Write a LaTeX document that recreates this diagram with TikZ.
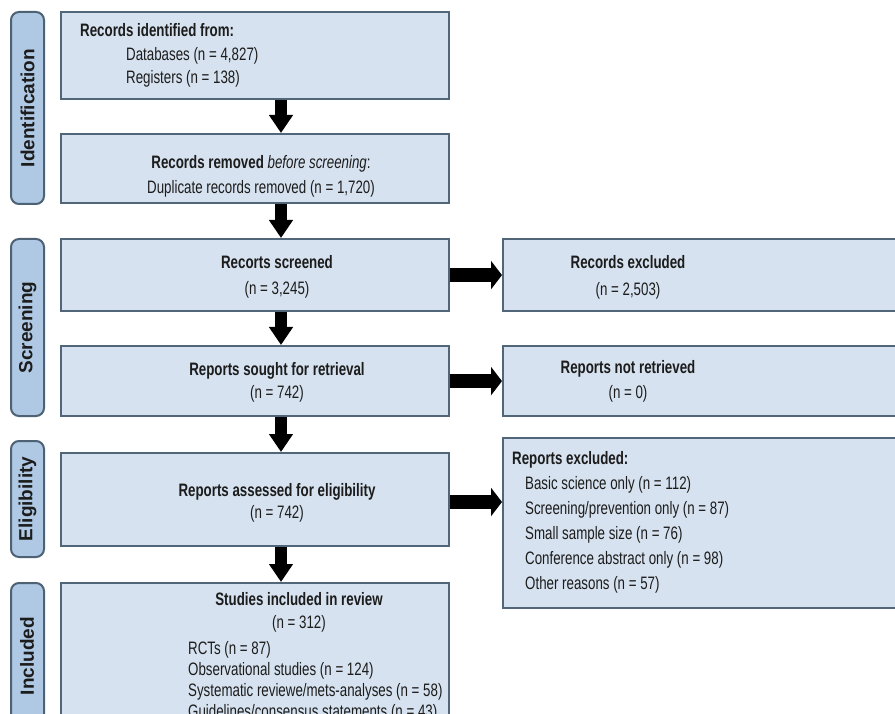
\documentclass[tikz,border=0pt]{standalone}
\usepackage{fontspec}
\setmainfont{Liberation Sans}[FakeStretch=0.74]
\newfontfamily\lblfont{Liberation Sans}
\usetikzlibrary{arrows.meta}
\definecolor{boxfill}{HTML}{D6E2EF}
\definecolor{boxline}{HTML}{52667A}
\definecolor{lblfill}{HTML}{AFC8E3}
\definecolor{lblline}{HTML}{4E6275}
\definecolor{ink}{HTML}{1C1C1C}
\begin{document}
\begin{tikzpicture}[x=1pt,y=-1pt,
  stagebox/.style={draw=boxline, fill=boxfill, line width=2.2pt, anchor=north west, inner sep=0pt},
  stagelbl/.style={draw=lblline, fill=lblfill, line width=2pt, rounded corners=8pt, anchor=north west, inner sep=0pt, minimum width=33pt},
  lbltext/.style={rotate=90, font=\lblfont\bfseries\fontsize{19}{21}\selectfont, text=ink, inner sep=0pt},
  txt/.style={text=ink, inner sep=0pt, align=center},
  downarrow/.style={line width=12pt, draw=black, -{Triangle[length=18pt,width=23pt]}},
  rightarrow/.style={line width=14pt, draw=black, -{Triangle[length=11pt,width=28pt]}}]
\useasboundingbox (0,0) rectangle (895,714);
\fill[white] (0,0) rectangle (895,714);
\clip (0,0) rectangle (895,714);

% stage labels
\node[stagelbl, minimum height=192pt] (lid) at (10,11) {};
\node[stagelbl, minimum height=177pt] (lsc) at (10,238) {};
\node[stagelbl, minimum height=116pt] (lel) at (10,440) {};
\node[stagelbl, minimum height=160pt] (lin) at (10,582) {};
\node[lbltext] (tid) at (lid.center) {Identification};
\node[lbltext] (tsc) at (lsc.center) {Screening};
\node[lbltext] (tel) at (lel.center) {Eligibility};
\node[lbltext] (tin) at (27,656) {Included};

% main boxes
\node[stagebox, minimum width=388pt, minimum height=87pt] (b1) at (60,11) {};
\node[stagebox, minimum width=388pt, minimum height=69pt] (b2) at (60,133) {};
\node[stagebox, minimum width=388pt, minimum height=72pt] (b3) at (60,238) {};
\node[stagebox, minimum width=388pt, minimum height=70pt] (b4) at (60,345) {};
\node[stagebox, minimum width=388pt, minimum height=93pt] (b5) at (60,452) {};
\node[stagebox, minimum width=388pt, minimum height=170pt] (b6) at (60,582) {};
% right boxes
\node[stagebox, minimum width=420pt, minimum height=72pt] (r1) at (502,238) {};
\node[stagebox, minimum width=420pt, minimum height=70pt] (r2) at (502,345) {};
\node[stagebox, minimum width=420pt, minimum height=170pt] (r3) at (502,437) {};

% texts
\node[txt, align=left, anchor=west, font=\fontsize{18}{23.5}\selectfont] (t1) at (80,55.5)
  {\textbf{Records identified from:}\\\hspace*{46pt}Databases (n = 4,827)\\\hspace*{46pt}Registers (n = 138)};
\node[txt, font=\fontsize{18}{25}\selectfont] (t2) at (261,176)
  {\textbf{Records removed} \textit{before screening}:\\Duplicate records removed (n = 1,720)};
\node[txt, font=\fontsize{18}{26}\selectfont] (t3) at (277,277) {\textbf{Recorts screened}\\(n = 3,245)};
\node[txt, font=\fontsize{18}{23}\selectfont] (t4) at (277,382) {\textbf{Reports sought for retrieval}\\(n = 742)};
\node[txt, font=\fontsize{18}{22}\selectfont] (t5) at (277,503) {\textbf{Reports assessed for eligibility}\\(n = 742)};
\node[txt, font=\fontsize{18}{23}\selectfont] (t6) at (299,612) {\textbf{Studies included in review}\\(n = 312)};
\node[txt, align=left, anchor=west, font=\fontsize{18}{21}\selectfont] (t6l) at (188,681)
  {RCTs (n = 87)\\Observational studies (n = 124)\\Systematic reviewe/mets-analyses (n = 58)\\Guidelines/consensus statements (n = 43)};
\node[txt, font=\fontsize{18}{27}\selectfont] (tr1) at (628,277) {\textbf{Records excluded}\\(n = 2,503)};
\node[txt, font=\fontsize{18}{25}\selectfont] (tr2) at (628,381) {\textbf{Reports not retrieved}\\(n = 0)};
\node[txt, align=left, anchor=west, font=\fontsize{18}{25}\selectfont] (tr3) at (512,522.5)
  {\textbf{Reports excluded:}\\\hspace*{13pt}Basic science only (n = 112)\\\hspace*{13pt}Screening/prevention only (n = 87)\\\hspace*{13pt}Small sample size (n = 76)\\\hspace*{13pt}Conference abstract only (n = 98)\\\hspace*{13pt}Other reasons (n = 57)};

% connectors
\coordinate (ax) at (281,0);
\coordinate (a5) at (0,502);
\draw[downarrow] (b1.south -| ax) -- (b2.north -| ax);
\draw[downarrow] (b2.south -| ax) -- (b3.north -| ax);
\draw[downarrow] (b3.south -| ax) -- (b4.north -| ax);
\draw[downarrow] (b4.south -| ax) -- (b5.north -| ax);
\draw[downarrow] (b5.south -| ax) -- (b6.north -| ax);
\draw[rightarrow] (b3.east) -- (r1.west);
\draw[rightarrow] (b4.east) -- (r2.west);
\draw[rightarrow] (b5.east |- a5) -- (r3.west |- a5);
\end{tikzpicture}
\end{document}
